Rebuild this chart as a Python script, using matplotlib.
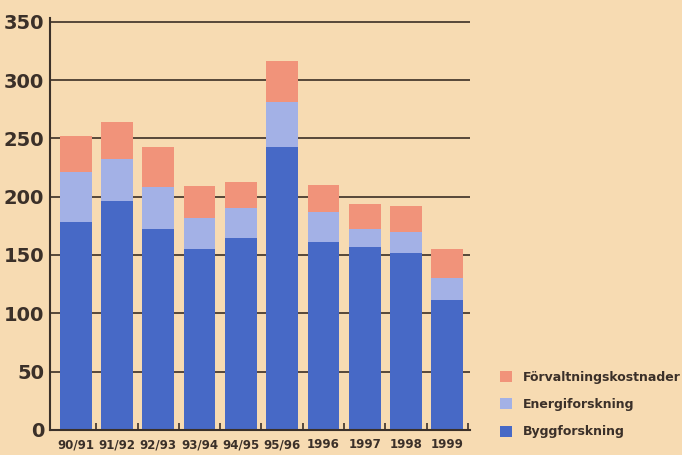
import numpy as np
import matplotlib.pyplot as plt

# values (MSEK)
years = ["90/91", "91/92", "92/93", "93/94", "94/95", "95/96", "1996", "1997", "1998", "1999"]
bygg = [178, 196, 172, 155, 165, 243, 161, 157, 152, 111]
energi = [43, 36, 36, 27, 25, 38, 26, 15, 18, 19]
forvaltning = [31, 32, 35, 27, 23, 35, 23, 22, 22, 25]

bg = "#f7dbb2"
c_bygg = "#4769c6"
c_energi = "#a3b1e6"
c_forv = "#f1937a"
txt = "#3b3029"

fig = plt.figure(figsize=(6.82, 4.55), dpi=100, facecolor=bg)
ax = fig.add_axes([0.073, 0.055, 0.616, 0.905])
ax.set_facecolor(bg)

x = np.arange(len(years))
w = 0.77
b1 = ax.bar(x, bygg, w, color=c_bygg, zorder=2, label="Byggforskning")
b2 = ax.bar(x, energi, w, bottom=bygg, color=c_energi, zorder=2, label="Energiforskning")
bot = np.array(bygg) + np.array(energi)
b3 = ax.bar(x, forvaltning, w, bottom=bot, color=c_forv, zorder=2, label="Förvaltningskostnader")

ax.set_xlim(-0.63, 9.55)
ax.set_ylim(0, 353)
ax.set_yticks(range(0, 351, 50))
ax.yaxis.grid(True, color="#4a3c30", linewidth=1.3, zorder=0)
ax.set_axisbelow(True)

for s in ["top", "right"]:
    ax.spines[s].set_visible(False)
ax.spines["left"].set_color(txt)
ax.spines["bottom"].set_color(txt)
ax.spines["left"].set_linewidth(1.5)
ax.spines["bottom"].set_linewidth(1.5)

ax.tick_params(axis="y", length=0, pad=4, labelsize=14, labelcolor=txt)
ax.set_xticks(x)
ax.set_xticklabels(years)
ax.tick_params(axis="x", length=0, pad=6, labelsize=8.5, labelcolor=txt)
ax.set_xticks(np.arange(0.5, 10, 1), minor=True)
ax.tick_params(axis="x", which="minor", direction="in", length=5, color=txt, width=1.2)
for lab in ax.get_yticklabels() + ax.get_xticklabels():
    lab.set_fontweight("bold")

leg = fig.legend(handles=[b3, b2, b1], loc="lower left", bbox_to_anchor=(0.722, 0.02),
                 frameon=False, fontsize=9, handlelength=1.0, handleheight=1.0,
                 labelspacing=1.15, handletextpad=0.8, borderaxespad=0.2)
for t in leg.get_texts():
    t.set_fontweight("bold")
    t.set_color(txt)

fig.savefig("out.png", dpi=100, facecolor=bg)
